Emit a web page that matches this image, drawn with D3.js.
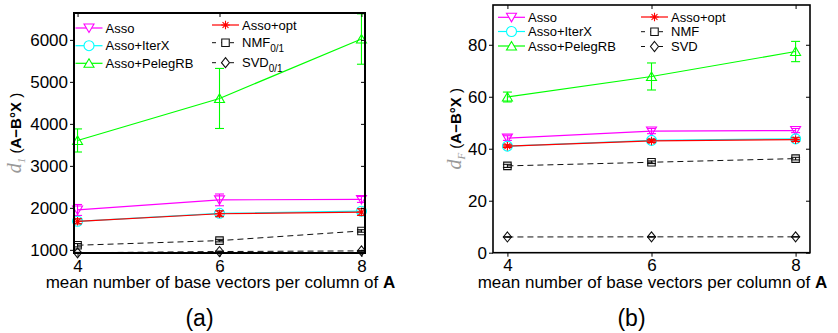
<!DOCTYPE html>
<html>
<head>
<meta charset="utf-8">
<script src="https://cdn.jsdelivr.net/npm/d3@7"></script>
<style>
  html, body { margin: 0; padding: 0; background: #fff; }
  svg { display: block; }
  text { font-family: "Liberation Sans", Arial, sans-serif; }
</style>
</head>
<body>
<svg id="fig" width="838" height="333"></svg>
<script>
// x positions: mean number of base vectors per column of A
const xValues = [4, 6, 8];

// (a) d_1 reconstruction error, mean and std
const assoD1 = [1950, 2190, 2200];
const assoD1Err = [130, 140, 70];
const iterxD1 = [1680, 1870, 1920];
const iterxD1Err = [60, 60, 60];
const pelegD1 = [3605, 4605, 6020];
const pelegD1Err = [275, 715, 600];
const optD1 = [1680, 1860, 1900];
const optD1Err = [60, 70, 80];
const nmfD1 = [1110, 1220, 1450];
const nmfD1Err = [40, 30, 30];
const svdD1 = [930, 960, 975];
const svdD1Err = [10, 10, 10];

// (b) d_F reconstruction error, mean and std
const assoDF = [44.1, 46.8, 47.0];
const assoDFErr = [0.9, 1.0, 0.8];
const iterxDF = [41.0, 43.2, 43.8];
const iterxDFErr = [0.5, 0.6, 0.6];
const pelegDF = [59.9, 67.8, 77.4];
const pelegDFErr = [1.9, 5.2, 3.9];
const optDF = [41.0, 43.0, 43.5];
const optDFErr = [0.5, 0.6, 0.7];
const nmfDF = [33.4, 34.8, 36.2];
const nmfDFErr = [0.6, 0.5, 0.5];
const svdDF = [6.05, 6.1, 6.1];
const svdDFErr = [0.1, 0.1, 0.1];

// tick labels
const xTicks = [4, 6, 8];
const yTicksD1 = [1000, 2000, 3000, 4000, 5000, 6000];
const yTicksDF = [0, 20, 40, 60, 80];

// marker shapes
function marker(kind, s) {
  switch (kind) {
    case "tri-down": return `M${-s},${-s*0.8}L${s},${-s*0.8}L0,${s*0.9}Z`;
    case "tri-up": return `M${-s},${s*0.8}L${s},${s*0.8}L0,${-s*0.9}Z`;
    case "circle": return `M${s},0A${s},${s} 0 1,1 ${-s},0A${s},${s} 0 1,1 ${s},0Z`;
    case "square": { const h = s*0.75; return `M${-h},${-h}L${h},${-h}L${h},${h}L${-h},${h}Z`; }
    case "diamond": return `M0,${-s}L${s*0.8},0L0,${s}L${-s*0.8},0Z`;
    case "star": {
      const r = s*0.85, d = r*0.7;
      return `M${-r},0L${r},0M0,${-r}L0,${r}M${-d},${-d}L${d},${d}M${-d},${d}L${d},${-d}`;
    }
  }
}

const svg = d3.select("#fig");
const intFmt = d3.format("d");

function panel(cfg) {
  const g = svg.append("g");
  const x = d3.scaleLinear().domain(cfg.xDomain).range([cfg.left, cfg.right]);
  const y = d3.scaleLinear().domain(cfg.yDomain).range([cfg.bottom, cfg.top]);

  // series lines, error bars and markers
  cfg.series.forEach(s => {
    const pts = xValues.map((xv, i) => ({ x: xv, y: s.values[i], e: s.err[i] }));
    const line = d3.line().x(d => x(d.x)).y(d => y(d.y));
    g.append("path").attr("d", line(pts))
      .attr("fill", "none").attr("stroke", s.color).attr("stroke-width", s.width || 1.2)
      .attr("stroke-dasharray", s.dash || null);
    const cap = 4.5;
    pts.forEach(p => {
      const y0 = y(Math.min(p.y + p.e, cfg.yDomain[1]));
      const y1 = y(p.y - p.e);
      const eb = g.append("g").attr("stroke", s.color).attr("stroke-width", 1.1);
      eb.append("line").attr("x1", x(p.x)).attr("x2", x(p.x)).attr("y1", y0).attr("y2", y1);
      eb.append("line").attr("x1", x(p.x) - cap).attr("x2", x(p.x) + cap).attr("y1", y0).attr("y2", y0);
      eb.append("line").attr("x1", x(p.x) - cap).attr("x2", x(p.x) + cap).attr("y1", y1).attr("y2", y1);
      g.append("path").attr("d", marker(s.marker, 5))
        .attr("transform", `translate(${x(p.x)},${y(p.y)})`)
        .attr("fill", "none").attr("stroke", s.color).attr("stroke-width", 1.1);
    });
  });

  // axes box and ticks
  g.append("rect").attr("x", cfg.left).attr("y", cfg.top)
    .attr("width", cfg.right - cfg.left).attr("height", cfg.bottom - cfg.top)
    .attr("fill", "none").attr("stroke", "#000").attr("stroke-width", cfg.boxWidth);

  const yl = g.append("g").attr("transform", `translate(${cfg.left},0)`)
    .call(d3.axisLeft(y).tickValues(cfg.yTicks).tickFormat(intFmt).tickSize(4).tickPadding(2));
  const yr = g.append("g").attr("transform", `translate(${cfg.right},0)`)
    .call(d3.axisLeft(y).tickValues(cfg.yTicks).tickSize(4).tickFormat(""));
  const xb = g.append("g").attr("transform", `translate(0,${cfg.bottom})`)
    .call(d3.axisBottom(x).tickValues(xTicks).tickFormat(intFmt).tickSize(4).tickPadding(3));
  const xt = g.append("g").attr("transform", `translate(0,${cfg.top})`)
    .call(d3.axisBottom(x).tickValues(xTicks).tickSize(4).tickFormat(""));
  [yl, yr, xb, xt].forEach(a => {
    a.select(".domain").remove();
    a.selectAll("line").attr("stroke", "#000").attr("stroke-width", 1);
    a.selectAll("text").attr("font-size", 17).attr("fill", "#000")
      .attr("font-family", "Liberation Sans, Arial, sans-serif");
  });
  xb.selectAll("text").attr("dy", "0.68em");

  // x axis title
  const xt2 = g.append("text").attr("x", (cfg.left + cfg.right) / 2 + 1).attr("y", 287.5)
    .attr("text-anchor", "middle").attr("font-size", 17);
  xt2.append("tspan").text("mean number of base vectors per column of ");
  xt2.append("tspan").attr("font-weight", "bold").text("A");

  // y axis title
  const cy = (cfg.top + cfg.bottom) / 2;
  const yt = g.append("text").attr("transform", `translate(${cfg.yLabelX},${cy}) rotate(-90)`)
    .attr("text-anchor", "middle").attr("font-size", 15);
  yt.append("tspan").attr("font-family", "Liberation Serif, serif").attr("font-style", "italic")
    .attr("fill", "#999").attr("font-size", 20).text("d");
  yt.append("tspan").attr("font-family", "Liberation Serif, serif").attr("font-style", "italic")
    .attr("fill", "#999").attr("font-size", 11).attr("dy", 4).text(cfg.yLabelSub);
  yt.append("tspan").attr("dy", -4).text(" (");
  yt.append("tspan").attr("font-weight", "bold").text("A\u2212B\u00b0X");
  yt.append("tspan").text(" )");

  // legend
  const rows = cfg.legendRows;
  cfg.series.forEach((s, i) => {
    const col = i < 3 ? 0 : 1;
    const row = i % 3;
    const lx0 = cfg.legendCols[col];
    const ly = rows[col][row];
    const lg = g.append("g");
    lg.append("line").attr("x1", lx0).attr("x2", lx0 + 27).attr("y1", ly).attr("y2", ly)
      .attr("stroke", s.color).attr("stroke-width", s.width || 1.2)
      .attr("stroke-dasharray", s.dash ? "4,5" : null);
    lg.append("path").attr("d", marker(s.marker, 5))
      .attr("transform", `translate(${lx0 + 13.5},${ly})`)
      .attr("fill", "#fff").attr("stroke", s.color).attr("stroke-width", 1.1);
    const t = lg.append("text").attr("x", lx0 + 30).attr("y", ly + 4.5).attr("font-size", 13);
    t.append("tspan").text(s.name);
    if (s.sub) t.append("tspan").attr("font-size", 10).attr("dy", 5).text(s.sub);
  });

  // panel caption
  svg.append("text").attr("x", (cfg.left + cfg.right) / 2 - 20).attr("y", 326)
    .attr("text-anchor", "middle").attr("font-family", "Liberation Serif, serif")
    .attr("font-size", 23).text(cfg.caption);
}

panel({
  left: 74, right: 365, top: 13, bottom: 253, boxWidth: 2,
  xDomain: [3.95, 8.05], yDomain: [925, 6640], yTicks: yTicksD1,
  yLabelX: 21, yLabelSub: "1", caption: "(a)",
  legendCols: [75.5, 212],
  legendRows: [[28, 45.7, 63.3], [25, 42.7, 62.7]],
  series: [
    { name: "Asso", values: assoD1, err: assoD1Err, color: "#ff00ff", marker: "tri-down" },
    { name: "Asso+IterX", values: iterxD1, err: iterxD1Err, color: "#00ffff", marker: "circle" },
    { name: "Asso+PelegRB", values: pelegD1, err: pelegD1Err, color: "#00ff00", marker: "tri-up" },
    { name: "Asso+opt", values: optD1, err: optD1Err, color: "#ff0000", marker: "star" },
    { name: "NMF", sub: "0/1", values: nmfD1, err: nmfD1Err, color: "#111", marker: "square", dash: "6,4", width: 1 },
    { name: "SVD", sub: "0/1", values: svdD1, err: svdD1Err, color: "#111", marker: "diamond", dash: "6,4", width: 1 }
  ]
});

panel({
  left: 493, right: 810, top: 5, bottom: 252.7, boxWidth: 1.6,
  xDomain: [3.8, 8.2], yDomain: [0, 95.3], yTicks: yTicksDF,
  yLabelX: 461, yLabelSub: "F", caption: "(b)",
  legendCols: [498, 641],
  legendRows: [[17.3, 31.5, 46], [17, 31.7, 46.5]],
  series: [
    { name: "Asso", values: assoDF, err: assoDFErr, color: "#ff00ff", marker: "tri-down" },
    { name: "Asso+IterX", values: iterxDF, err: iterxDFErr, color: "#00ffff", marker: "circle" },
    { name: "Asso+PelegRB", values: pelegDF, err: pelegDFErr, color: "#00ff00", marker: "tri-up" },
    { name: "Asso+opt", values: optDF, err: optDFErr, color: "#ff0000", marker: "star" },
    { name: "NMF", values: nmfDF, err: nmfDFErr, color: "#111", marker: "square", dash: "6,4", width: 1 },
    { name: "SVD", values: svdDF, err: svdDFErr, color: "#111", marker: "diamond", dash: "6,4", width: 1 }
  ]
});
</script>
</body>
</html>
